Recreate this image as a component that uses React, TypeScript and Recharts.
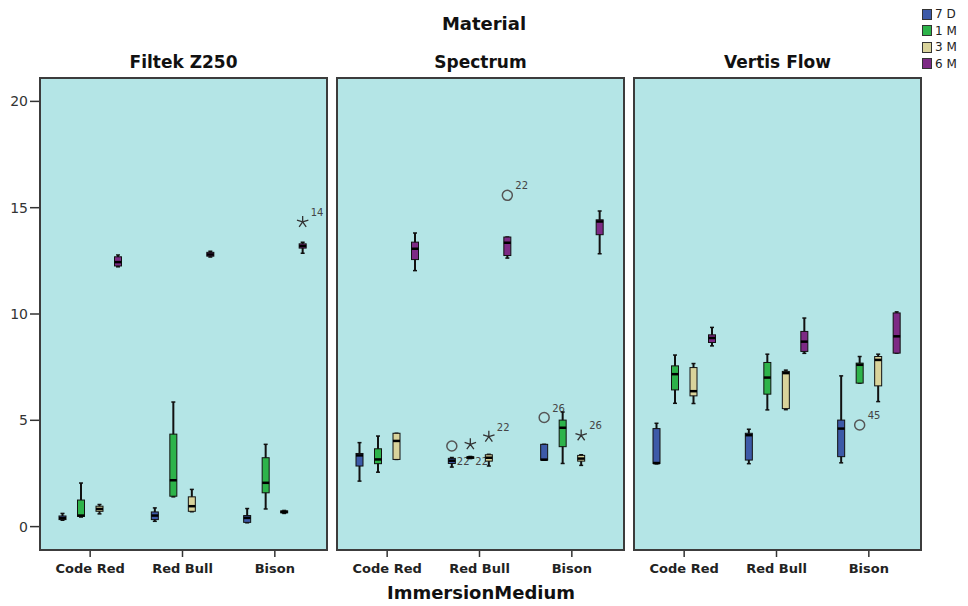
import React from 'react';
import { BarChart, Bar, XAxis, YAxis, CartesianGrid } from 'recharts';

const categories = ['Code Red', 'Red Bull', 'Bison'];
const materials = ['Filtek Z250', 'Spectrum', 'Vertis Flow'];
const periods = ['7 D', '1 M', '3 M', '6 M'];
const periodColors = ['#3d5aa8', '#2db34a', '#d9d39b', '#7d2a85'];
const yTicks = [0, 5, 10, 15, 20];

// [min, q1, median, q3, max] — rows: period, columns: Code Red, Red Bull, Bison
const filtekZ250 = [
  [[0.3, 0.33, 0.4, 0.5, 0.62], [0.25, 0.33, 0.52, 0.69, 0.88], [0.18, 0.2, 0.41, 0.52, 0.85]],
  [[0.45, 0.48, 0.52, 1.25, 2.05], [1.4, 1.43, 2.18, 4.35, 5.86], [0.83, 1.59, 2.06, 3.24, 3.87]],
  [[0.6, 0.72, 0.83, 0.96, 1.04], [0.7, 0.72, 0.96, 1.4, 1.75], [0.62, 0.65, 0.69, 0.74, 0.76]],
  [[12.22, 12.26, 12.44, 12.69, 12.78], [12.68, 12.72, 12.8, 12.9, 12.95], [12.86, 13.1, 13.2, 13.3, 13.38]],
];
const spectrum = [
  [[2.14, 2.85, 3.35, 3.44, 3.95], [2.8, 2.97, 3.1, 3.21, 3.25], [3.13, 3.13, 3.15, 3.87, 3.87]],
  [[2.56, 2.96, 3.16, 3.66, 4.26], [3.2, 3.22, 3.25, 3.28, 3.3], [2.97, 3.76, 4.65, 5.01, 5.39]],
  [[3.16, 3.16, 4.03, 4.39, 4.39], [2.85, 3.08, 3.24, 3.38, 3.4], [2.88, 3.08, 3.2, 3.35, 3.38]],
  [[12.04, 12.56, 13.07, 13.38, 13.81], [12.63, 12.75, 13.35, 13.62, 13.62], [12.83, 13.73, 14.35, 14.43, 14.84]],
];
const vertisFlow = [
  [[2.95, 2.97, 2.99, 4.61, 4.86], [2.96, 3.13, 4.3, 4.39, 4.58], [3.0, 3.29, 4.61, 5.01, 7.09]],
  [[5.8, 6.43, 7.17, 7.56, 8.07], [5.49, 6.23, 7.01, 7.72, 8.11], [6.75, 6.75, 7.61, 7.69, 8.0]],
  [[5.79, 6.15, 6.37, 7.48, 7.67], [5.5, 5.55, 7.22, 7.3, 7.36], [5.88, 6.62, 7.84, 8.0, 8.11]],
  [[8.5, 8.66, 8.87, 9.02, 9.37], [8.15, 8.24, 8.7, 9.18, 9.81], [8.16, 8.16, 8.95, 10.05, 10.1]],
];

// outliers: [category index, period index, value, marker, case label]
const filtekOutliers = [[2, 3, 14.33, 'star', '14']];
const spectrumOutliers = [
  [1, 0, 3.79, 'circle', ''],
  [1, 0, 2.6, 'none', '22'],
  [1, 1, 3.87, 'star', ''],
  [1, 1, 2.6, 'none', '22'],
  [1, 2, 4.23, 'star', '22'],
  [1, 3, 15.58, 'circle', '22'],
  [2, 0, 5.13, 'circle', '26'],
  [2, 2, 4.29, 'star', '26'],
];
const vertisOutliers = [[2, 1, 4.78, 'circle', '45']];

const panelStats = [filtekZ250, spectrum, vertisFlow];
const panelOutliers = [filtekOutliers, spectrumOutliers, vertisOutliers];

const FONT = '"DejaVu Sans", Verdana, sans-serif';
const PANEL_BG = '#b4e5e6';
const Y_DOMAIN: [number, number] = [-1.1, 21.1];
const PLOT_TOP = 78;
const PLOT_H = 472;
const PLOT_W = 287;
const panelLefts = [40, 337, 634];

function Star({ cx, cy }: { cx: number; cy: number }) {
  const r = 6;
  const pts = [0, 1, 2, 3, 4].map((i) => {
    const a = -Math.PI / 2 + (i * 2 * Math.PI) / 5;
    return `M${cx},${cy}L${cx + r * Math.cos(a)},${cy + r * Math.sin(a)}`;
  });
  return <path d={pts.join('')} stroke="#333" strokeWidth={1.3} fill="none" />;
}

function BoxShape(props: any) {
  const { x, y, width, height, payload, pi } = props;
  const [mn, q1, md, q3, mx] = payload.stats[pi];
  const top = Math.min(y, y + height);
  const bot = Math.max(y, y + height);
  const ppu = (bot - top) / (mx - mn);
  const py = (v: number) => top + (mx - v) * ppu;
  const cx = x + width / 2;
  const bw = 7;
  const outs = payload.outliers.filter((o: any) => o[1] === pi);
  return (
    <g>
      <line x1={cx} x2={cx} y1={py(mx)} y2={py(mn)} stroke="#111" strokeWidth={2} />
      <line x1={cx - 2} x2={cx + 2} y1={py(mx)} y2={py(mx)} stroke="#111" strokeWidth={1.5} />
      <line x1={cx - 2} x2={cx + 2} y1={py(mn)} y2={py(mn)} stroke="#111" strokeWidth={1.5} />
      <rect
        x={cx - bw / 2}
        y={py(q3)}
        width={bw}
        height={Math.max(py(q1) - py(q3), 1.5)}
        fill={periodColors[pi]}
        stroke="#111"
        strokeWidth={1}
      />
      <line x1={cx - bw / 2} x2={cx + bw / 2} y1={py(md)} y2={py(md)} stroke="#000" strokeWidth={2.5} />
      {outs.map((o: any, k: number) => {
        const oy = py(o[2]);
        return (
          <g key={k}>
            {o[3] === 'circle' && <circle cx={cx} cy={oy} r={5} fill="none" stroke="#555" strokeWidth={1.5} />}
            {o[3] === 'star' && <Star cx={cx} cy={oy} />}
            {o[4] && (
              <text x={cx + (o[3] === 'none' ? 5 : 8)} y={oy - 6} fontSize={10} fill="#444" fontFamily={FONT}>
                {o[4]}
              </text>
            )}
          </g>
        );
      })}
    </g>
  );
}

function Panel({ index }: { index: number }) {
  const stats = panelStats[index];
  const outliers = panelOutliers[index];
  const data = categories.map((c, ci) => ({
    category: c,
    stats: periods.map((_, pi) => stats[pi][ci]),
    outliers: outliers.filter((o) => o[0] === ci),
  }));
  const showY = index === 0;
  const width = (showY ? 40 : 0) + PLOT_W;
  return (
    <div style={{ position: 'absolute', left: panelLefts[index] - (showY ? 40 : 0), top: 0 }}>
      <BarChart
        width={width}
        height={606}
        data={data}
        margin={{ top: PLOT_TOP, right: 0, bottom: 26, left: 0 }}
        barSize={7}
        barGap={11.5}
      >
        <CartesianGrid horizontal={false} vertical={false} fill={PANEL_BG} fillOpacity={1} stroke="none" />
        <XAxis
          dataKey="category"
          height={30}
          padding={{ left: 4, right: 6 }}
          axisLine={false}
          tickSize={7}
          tickMargin={7}
          tickLine={{ stroke: '#333', strokeWidth: 1.5 }}
          tick={{ fontSize: 13, fontWeight: 'bold', fill: '#222', fontFamily: FONT }}
        />
        <YAxis
          hide={!showY}
          width={40}
          domain={Y_DOMAIN}
          allowDataOverflow
          ticks={yTicks}
          axisLine={false}
          tickSize={10}
          tickMargin={2}
          tickLine={{ stroke: '#333', strokeWidth: 1.5 }}
          tick={{ fontSize: 14, fill: '#333', fontFamily: FONT }}
        />
        {periods.map((p, pi) => (
          <Bar
            key={p}
            name={p}
            dataKey={(d: any) => [d.stats[pi][0], d.stats[pi][4]]}
            fill={periodColors[pi]}
            isAnimationActive={false}
            shape={(sp: any) => <BoxShape {...sp} pi={pi} />}
          />
        ))}
      </BarChart>
      <div
        style={{
          position: 'absolute',
          left: (showY ? 40 : 0) - 1,
          top: PLOT_TOP - 1,
          width: PLOT_W + 2,
          height: PLOT_H + 2,
          border: '2px solid #3c3c3c',
          boxSizing: 'border-box',
          pointerEvents: 'none',
        }}
      />
      <div
        style={{
          position: 'absolute',
          left: showY ? 40 : 0,
          top: 52,
          width: PLOT_W,
          textAlign: 'center',
          fontFamily: FONT,
          fontWeight: 'bold',
          fontSize: 17,
          color: '#111',
          whiteSpace: 'nowrap',
        }}
      >
        {materials[index]}
      </div>
    </div>
  );
}

export default function App() {
  return (
    <div style={{ position: 'absolute', left: 0, top: 0, width: 968, height: 606, background: '#fff', overflow: 'hidden' }}>
      <div
        style={{
          position: 'absolute',
          left: 0,
          width: 968,
          top: 13,
          textAlign: 'center',
          fontFamily: FONT,
          fontWeight: 'bold',
          fontSize: 18,
          color: '#111',
          paddingRight: 2,
        }}
      >
        Material
      </div>
      {[0, 1, 2].map((i) => (
        <Panel key={i} index={i} />
      ))}
      <div
        style={{
          position: 'absolute',
          left: 0,
          width: 962,
          top: 582,
          textAlign: 'center',
          fontFamily: FONT,
          fontWeight: 'bold',
          fontSize: 18,
          color: '#111',
        }}
      >
        ImmersionMedium
      </div>
      <div style={{ position: 'absolute', left: 922, top: 6, fontFamily: FONT, fontSize: 12, color: '#222' }}>
        {periods.map((p, pi) => (
          <div key={p} style={{ display: 'flex', alignItems: 'center', height: 16.5, whiteSpace: 'nowrap' }}>
            <span
              style={{
                display: 'inline-block',
                width: 8,
                height: 9,
                background: periodColors[pi],
                border: '1px solid #333',
                marginRight: 3,
              }}
            />
            {p}
          </div>
        ))}
      </div>
    </div>
  );
}
